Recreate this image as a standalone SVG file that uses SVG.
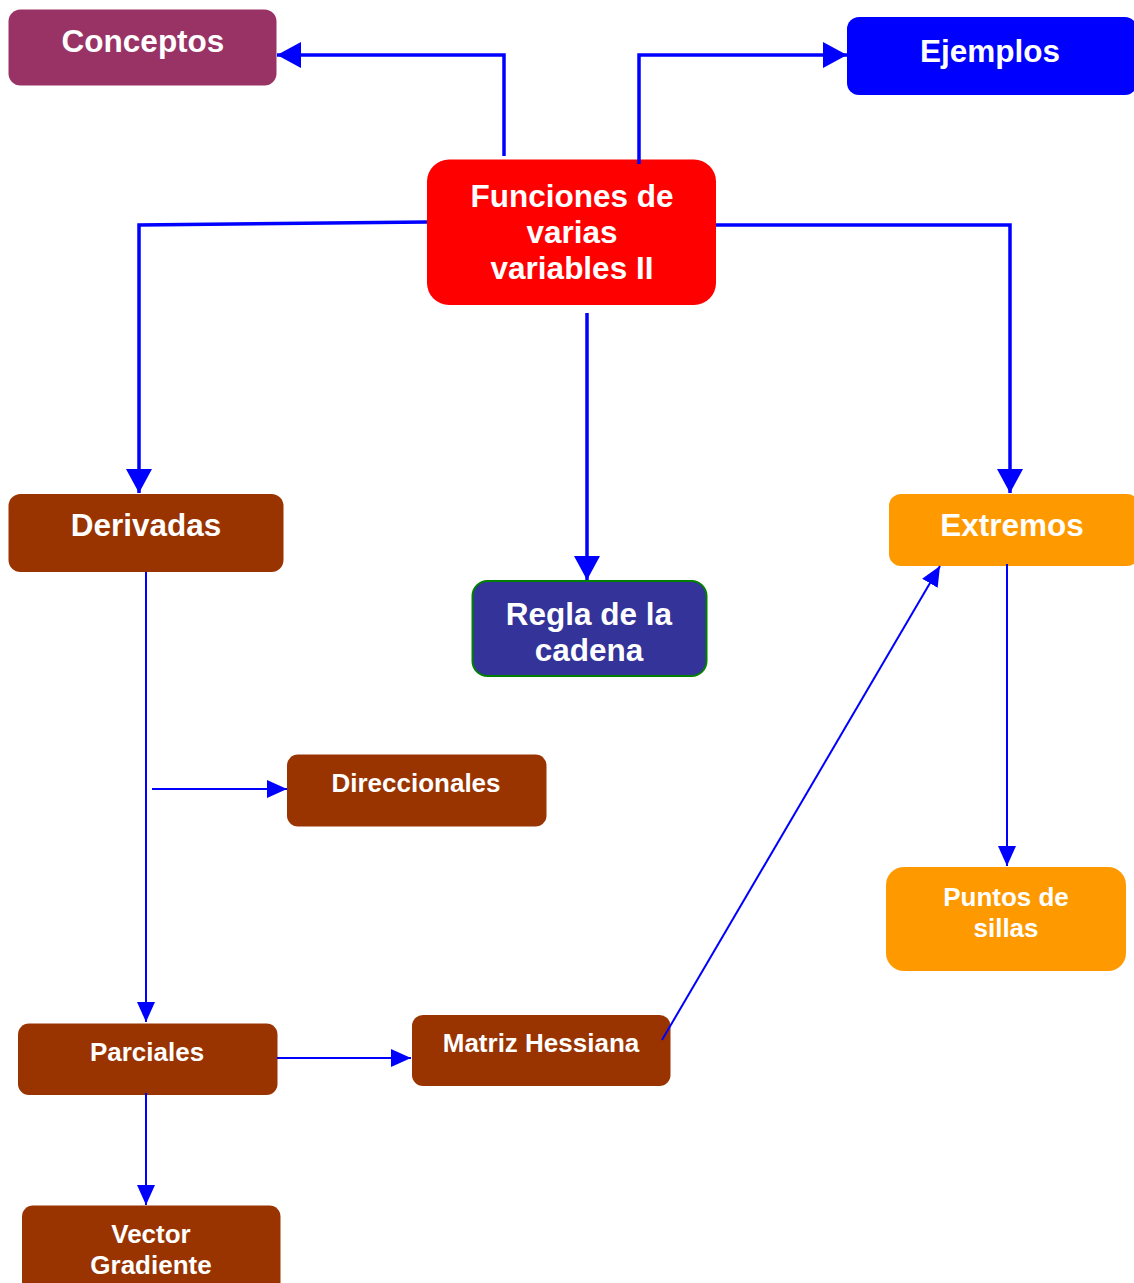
<svg xmlns="http://www.w3.org/2000/svg" width="1134" height="1283" viewBox="0 0 1134 1283">
<style>
.lbl{font-family:"Liberation Sans",Arial,sans-serif;font-weight:bold;fill:#fff;text-anchor:middle}
.big{font-size:31.5px}
.sm{font-size:26px}
.thick{stroke:#0000ff;stroke-width:3.5;fill:none}
.thin{stroke:#0000ff;stroke-width:2;fill:none}
</style>
<defs>
<marker id="ab" markerUnits="userSpaceOnUse" markerWidth="24" markerHeight="26" refX="24" refY="13" orient="auto"><path d="M0,0 L24,13 L0,26 z" fill="#0000ff"/></marker>
<marker id="as" markerUnits="userSpaceOnUse" markerWidth="20" markerHeight="18" refX="20" refY="9" orient="auto"><path d="M0,0 L20,9 L0,18 z" fill="#0000ff"/></marker>
</defs>
<g id="conceptos">
<rect x="8.5" y="9.5" width="268" height="76" rx="12" fill="#993366"/>
<text class="lbl big" x="143" y="52">Conceptos</text>
</g>
<g id="ejemplos">
<rect x="847" y="17" width="290" height="78" rx="12" fill="#0000ff"/>
<text class="lbl big" x="990" y="62">Ejemplos</text>
</g>
<g id="funciones">
<rect x="427" y="159.5" width="289" height="145.5" rx="22" fill="#ff0000"/>
<text class="lbl big" x="572" y="207">Funciones de</text>
<text class="lbl big" x="572" y="243">varias</text>
<text class="lbl big" x="572" y="279">variables II</text>
</g>
<g id="derivadas">
<rect x="8.5" y="494" width="275" height="78" rx="12" fill="#993300"/>
<text class="lbl big" x="146" y="536">Derivadas</text>
</g>
<g id="regla">
<rect x="472.5" y="581" width="234" height="95" rx="15" fill="#333399" stroke="#008000" stroke-width="2"/>
<text class="lbl big" x="589" y="625">Regla de la</text>
<text class="lbl big" x="589" y="661">cadena</text>
</g>
<g id="extremos">
<rect x="889" y="494" width="250" height="72" rx="12" fill="#ff9900"/>
<text class="lbl big" x="1012" y="536">Extremos</text>
</g>
<g id="direccionales">
<rect x="287" y="754.5" width="259.5" height="72" rx="11" fill="#993300"/>
<text class="lbl sm" x="416" y="792">Direccionales</text>
</g>
<g id="puntos">
<rect x="886" y="867" width="240" height="104" rx="18" fill="#ff9900"/>
<text class="lbl sm" x="1006" y="906">Puntos de</text>
<text class="lbl sm" x="1006" y="937">sillas</text>
</g>
<g id="parciales">
<rect x="18" y="1023.5" width="259.5" height="71.5" rx="11" fill="#993300"/>
<text class="lbl sm" x="147" y="1061">Parciales</text>
</g>
<g id="matriz">
<rect x="412" y="1015" width="258.5" height="71" rx="11" fill="#993300"/>
<text class="lbl sm" x="541" y="1052">Matriz Hessiana</text>
</g>
<g id="vector">
<rect x="22" y="1205.5" width="258.5" height="90" rx="11" fill="#993300"/>
<text class="lbl sm" x="151" y="1243">Vector</text>
<text class="lbl sm" x="151" y="1274">Gradiente</text>
</g>
<g id="connectors">
<polyline class="thick" points="504,156 504,55 277,55" marker-end="url(#ab)"/>
<polyline class="thick" points="639,164 639,55 847,55" marker-end="url(#ab)"/>
<polyline class="thick" points="427,222 139,225 139,493" marker-end="url(#ab)"/>
<polyline class="thick" points="716,225 1010,225 1010,493" marker-end="url(#ab)"/>
<line class="thick" x1="587" y1="313" x2="587" y2="580" marker-end="url(#ab)"/>
<line class="thin" x1="146" y1="572" x2="146" y2="1022" marker-end="url(#as)"/>
<line class="thin" x1="152" y1="789" x2="287" y2="789" marker-end="url(#as)"/>
<line class="thin" x1="277" y1="1058" x2="411" y2="1058" marker-end="url(#as)"/>
<line class="thin" x1="146" y1="1093" x2="146" y2="1205" marker-end="url(#as)"/>
<line class="thin" x1="662" y1="1040" x2="940" y2="566" marker-end="url(#as)"/>
<line class="thin" x1="1007" y1="564" x2="1007" y2="866" marker-end="url(#as)"/>
</g>
</svg>
